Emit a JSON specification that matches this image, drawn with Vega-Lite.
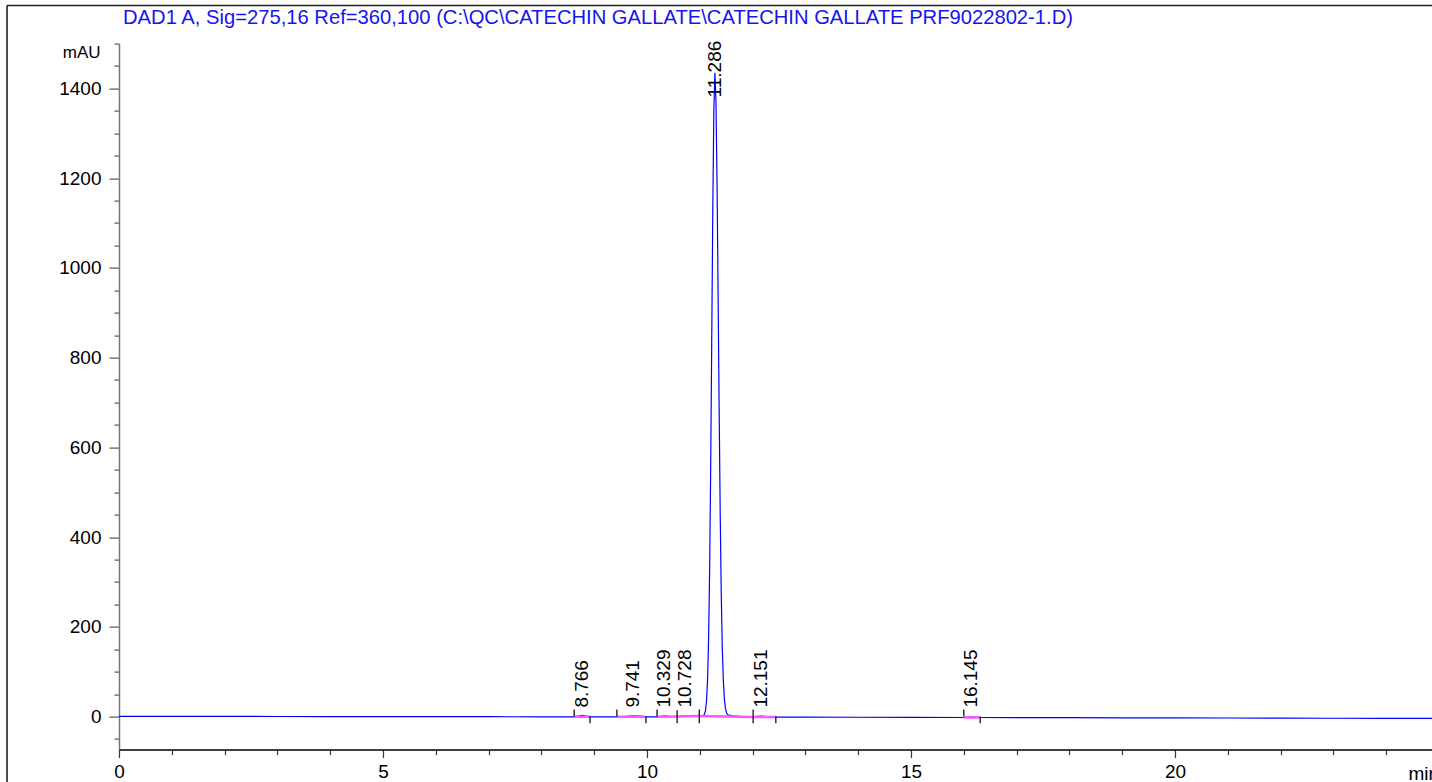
{
  "$schema": "https://vega.github.io/schema/vega-lite/v6.json",
  "width": 1313,
  "height": 706,
  "autosize": {"type": "none"},
  "padding": {"left": 119, "top": 43.6, "right": 0, "bottom": 32.4},
  "background": "white",
  "config": {"view": {"stroke": null}, "font": "Liberation Sans"},
  "encoding": {
    "x": {
      "field": "t",
      "type": "quantitative",
      "scale": {"domain": [0, 24.867], "nice": false, "zero": false},
      "axis": {
        "values": [0,1,2,3,4,5,6,7,8,9,10,11,12,13,14,15,16,17,18,19,20,21,22,23,24],
        "format": "d",
        "domainColor": "#000000",
        "domainWidth": 1.5,
        "tickColor": "#333333",
        "tickWidth": 1.2,
        "tickSize": {"condition": {"test": "datum.value % 5 === 0", "value": 8}, "value": 5},
        "labelExpr": "datum.value % 5 === 0 ? datum.label : ''",
        "labelFontSize": 19,
        "labelColor": "#000000",
        "labelPadding": 5,
        "labelOverlap": false,
        "labelBound": false,
        "labelFlush": false,
        "grid": false,
        "title": "min",
        "titleX": 1289,
        "titleY": 29.5,
        "titleAlign": "left",
        "titleBaseline": "alphabetic",
        "titleFontSize": 19,
        "titleFontWeight": "normal",
        "titleColor": "#000000"
      }
    },
    "y": {
      "field": "v",
      "type": "quantitative",
      "scale": {"domain": [-73.6, 1500], "nice": false, "zero": false},
      "axis": {
        "values": [-50,0,50,100,150,200,250,300,350,400,450,500,550,600,650,700,750,800,850,900,950,1000,1050,1100,1150,1200,1250,1300,1350,1400,1450,1500],
        "format": "d",
        "domainColor": "#777777",
        "domainWidth": 1.5,
        "tickColor": "#555555",
        "tickWidth": 1.2,
        "tickSize": {"condition": {"test": "datum.value % 200 === 0", "value": 10}, "value": 5},
        "labelExpr": "datum.value % 200 === 0 ? datum.label : ''",
        "labelFontSize": 19,
        "labelColor": "#000000",
        "labelPadding": 8,
        "labelOverlap": false,
        "labelBound": false,
        "labelFlush": false,
        "grid": false,
        "title": "mAU",
        "titleAngle": 0,
        "titleAlign": "right",
        "titleBaseline": "middle",
        "titleX": -19,
        "titleY": 9,
        "titleFontSize": 17,
        "titleFontWeight": "normal",
        "titleColor": "#000000"
      }
    }
  },
  "layer": [
    {
      "data": {"values": [
        {"t": -2.121, "v": -147.5, "t2": -2.121, "v2": 1585},
        {"t": -2.121, "v": 1585, "t2": 24.9, "v2": 1585}
      ]},
      "mark": {"type": "rule", "stroke": "#222222", "strokeWidth": 1.6},
      "encoding": {"x2": {"field": "t2"}, "y2": {"field": "v2"}}
    },
    {
      "data": {"values": [
        {"t": 0.076, "v": 1543.7, "label": "DAD1 A, Sig=275,16 Ref=360,100 (C:\\QC\\CATECHIN GALLATE\\CATECHIN GALLATE PRF9022802-1.D)"}
      ]},
      "mark": {"type": "text", "align": "left", "baseline": "alphabetic", "fontSize": 20.2, "color": "#1515f0", "font": "Liberation Sans"},
      "encoding": {"text": {"field": "label"}}
    },
    {
      "data": {"values": [
        {"t": 0, "v": 0.5}, {"t": 1, "v": 0.5}, {"t": 2, "v": 0.3}, {"t": 3, "v": 0.2},
        {"t": 4, "v": 0}, {"t": 5, "v": 0}, {"t": 6, "v": -0.2}, {"t": 7, "v": -0.3},
        {"t": 8, "v": -0.5}, {"t": 8.6, "v": -0.5}, {"t": 8.7, "v": 1.2}, {"t": 8.766, "v": 2.5},
        {"t": 8.85, "v": 1}, {"t": 8.95, "v": -0.5}, {"t": 9.4, "v": -0.6}, {"t": 9.6, "v": 0.5},
        {"t": 9.741, "v": 1.8}, {"t": 9.85, "v": 0.8}, {"t": 10.0, "v": -0.5}, {"t": 10.2, "v": -0.5},
        {"t": 10.329, "v": 1.5}, {"t": 10.45, "v": 0}, {"t": 10.6, "v": 0.2}, {"t": 10.728, "v": 2},
        {"t": 10.85, "v": 1}, {"t": 10.95, "v": 0.8}, {"t": 11.0, "v": 1.2}, {"t": 11.04, "v": 1.6},
        {"t": 11.066, "v": 2}, {"t": 11.086, "v": 4.7}, {"t": 11.106, "v": 12.6}, {"t": 11.126, "v": 33},
        {"t": 11.146, "v": 79}, {"t": 11.166, "v": 170}, {"t": 11.186, "v": 326}, {"t": 11.206, "v": 555},
        {"t": 11.226, "v": 841}, {"t": 11.246, "v": 1132}, {"t": 11.266, "v": 1353}, {"t": 11.286, "v": 1435},
        {"t": 11.306, "v": 1371}, {"t": 11.326, "v": 1194}, {"t": 11.346, "v": 950}, {"t": 11.366, "v": 688},
        {"t": 11.386, "v": 455}, {"t": 11.406, "v": 275}, {"t": 11.426, "v": 151}, {"t": 11.446, "v": 80},
        {"t": 11.466, "v": 39}, {"t": 11.486, "v": 18}, {"t": 11.506, "v": 8.5}, {"t": 11.526, "v": 4.4},
        {"t": 11.566, "v": 2.5}, {"t": 11.616, "v": 1.5}, {"t": 11.686, "v": 0.8}, {"t": 11.786, "v": 0},
        {"t": 11.9, "v": -0.5}, {"t": 12.0, "v": -0.8}, {"t": 12.151, "v": 1.2}, {"t": 12.3, "v": -0.5},
        {"t": 12.5, "v": -1.2}, {"t": 13, "v": -1.3}, {"t": 14, "v": -1.5}, {"t": 15, "v": -1.8},
        {"t": 16.0, "v": -2}, {"t": 16.145, "v": -0.5}, {"t": 16.3, "v": -2}, {"t": 17, "v": -2.2},
        {"t": 18, "v": -2.5}, {"t": 19, "v": -2.8}, {"t": 20, "v": -3}, {"t": 21, "v": -3.2},
        {"t": 22, "v": -3.5}, {"t": 23, "v": -3.7}, {"t": 24, "v": -3.9}, {"t": 24.867, "v": -4}
      ]},
      "mark": {"type": "line", "stroke": "#0000ff", "strokeWidth": 1.2},
      "encoding": {"order": {"field": "t", "type": "quantitative"}}
    },
    {
      "data": {"values": [
        {"seg": "p1", "t": 8.62, "v": -0.5}, {"seg": "p1", "t": 8.92, "v": -0.5},
        {"seg": "p2", "t": 9.43, "v": -0.6}, {"seg": "p2", "t": 9.98, "v": -0.5},
        {"seg": "p3", "t": 10.19, "v": -0.5}, {"seg": "p3", "t": 10.57, "v": 0.1},
        {"seg": "p4", "t": 10.57, "v": 0.1}, {"seg": "p4", "t": 10.99, "v": 1.1},
        {"seg": "p5", "t": 10.99, "v": 1.1}, {"seg": "p5", "t": 12.01, "v": -0.8},
        {"seg": "p6", "t": 12.01, "v": -0.8}, {"seg": "p6", "t": 12.44, "v": -1.1},
        {"seg": "p7", "t": 16.0, "v": -2}, {"seg": "p7", "t": 16.31, "v": -2}
      ]},
      "mark": {"type": "line", "stroke": "#ff55ff", "strokeWidth": 2.5},
      "encoding": {"detail": {"field": "seg"}, "order": {"field": "t", "type": "quantitative"}}
    },
    {
      "data": {"values": [
        {"t": 8.62, "v": 0, "v2": 16}, {"t": 8.92, "v": 0, "v2": -15},
        {"t": 9.43, "v": 0, "v2": 16}, {"t": 9.98, "v": 0, "v2": -15},
        {"t": 10.19, "v": 0, "v2": 16}, {"t": 10.57, "v": -15, "v2": 14},
        {"t": 10.99, "v": -15, "v2": 16}, {"t": 12.01, "v": -15, "v2": 16},
        {"t": 12.44, "v": 0, "v2": -15}, {"t": 16.0, "v": 0, "v2": 16},
        {"t": 16.31, "v": 0, "v2": -15}
      ]},
      "mark": {"type": "rule", "stroke": "#000000", "strokeWidth": 1.2},
      "encoding": {"y2": {"field": "v2"}}
    },
    {
      "data": {"values": [
        {"t": 8.766, "v": 20, "label": "8.766"},
        {"t": 9.741, "v": 20, "label": "9.741"},
        {"t": 10.329, "v": 20, "label": "10.329"},
        {"t": 10.728, "v": 20, "label": "10.728"},
        {"t": 11.286, "v": 1380, "label": "11.286"},
        {"t": 12.151, "v": 20, "label": "12.151"},
        {"t": 16.145, "v": 20, "label": "16.145"}
      ]},
      "mark": {"type": "text", "angle": 270, "align": "left", "baseline": "middle", "fontSize": 19, "color": "#000000", "font": "Liberation Sans"},
      "encoding": {"text": {"field": "label"}}
    }
  ]
}
